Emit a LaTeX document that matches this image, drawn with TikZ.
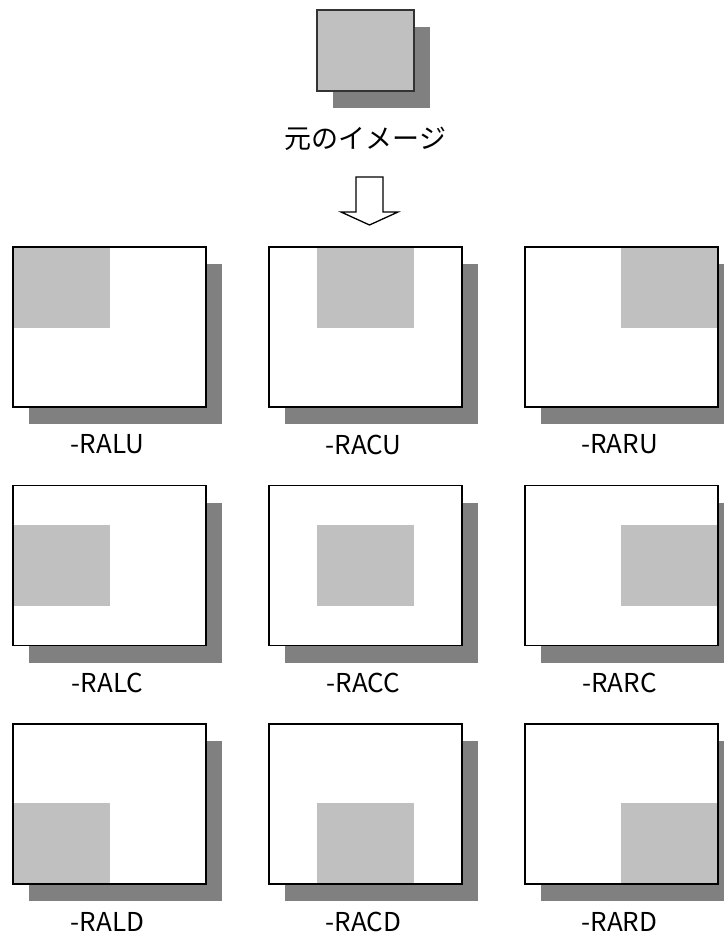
\documentclass[tikz,border=0pt]{standalone}
\usepackage{fontspec}
\setmainfont{Noto Sans CJK JP}
\newfontfamily\labelfont{Noto Sans CJK JP}
\usetikzlibrary{positioning,shadows}
\definecolor{patchgray}{HTML}{C0C0C0}
\definecolor{shadowgray}{HTML}{808080}
\definecolor{edgegray}{HTML}{333333}
\tikzset{
  boxshadow/.style={drop shadow={shadow xshift=16pt, shadow yshift=-17pt, fill=shadowgray, opacity=1}},
  frame/.style={draw=black, line width=1.5pt, fill=white, inner sep=0pt, outer sep=0pt,
    minimum width=193pt, minimum height=160pt, boxshadow},
  srcbox/.style={draw=edgegray, line width=1.3pt, fill=patchgray, inner sep=0pt, outer sep=0pt,
    minimum width=97pt, minimum height=81pt, boxshadow},
  lbl/.style={font=\labelfont\fontsize{26}{30}\selectfont, inner sep=0pt},
  caption/.style={font=\fontsize{27}{32}\selectfont, inner sep=0pt}
}
\begin{document}
\begin{tikzpicture}[x=1pt, y=-1pt]
\path[use as bounding box, fill=white] (0,0) rectangle (723,936);

% Original image
\node[srcbox, anchor=north west] (src) at (317,10) {};
\node[caption] (srclbl) at ([yshift=-48pt]src.south) {元のイメージ};

% Hollow arrow
\draw[line width=1.3pt, fill=white] (356,177) -- (383,177) -- (383,212) -- (398,212)
  -- (369.5,225) -- (341,212) -- (356,212) -- cycle;

% Result frames
\foreach \h/\hx/\col in {L/0/0, C/48/1, R/96/2}{
  \foreach \v/\vy/\row in {U/0/0, C/39.5/1, D/79/2}{
    \node[frame, anchor=north west,
      path picture={\fill[patchgray] ([shift={(\hx pt,-\vy pt)}]path picture bounding box.north west)
        rectangle +(97pt,-81pt);}]
      (f\h\v) at ({13+256*\col},{247+238.5*\row}) {};
    \node[lbl] (l\h\v) at ([shift={(-2pt,-37.5pt)}]f\h\v.south) {-RA\h\v};
  }
}
\end{tikzpicture}
\end{document}
